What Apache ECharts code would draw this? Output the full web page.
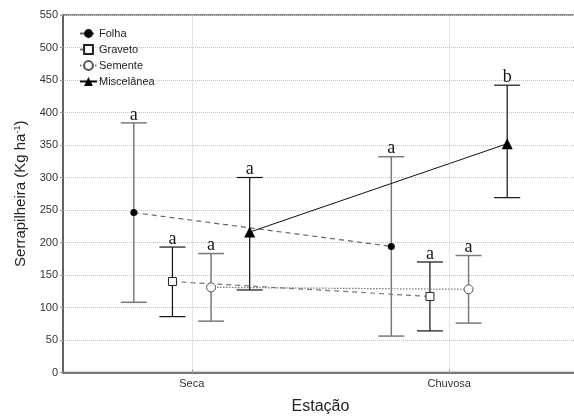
<!DOCTYPE html>
<html><head><meta charset="utf-8">
<script src="https://cdn.jsdelivr.net/npm/echarts@6/dist/echarts.min.js"></script>
<style>html,body{margin:0;padding:0;background:#fff}#c{width:574px;height:417px}</style>
</head><body><div id="c"></div>
<script>
const categories = ['Seca', 'Chuvosa'];
const seriesNames = ['Folha', 'Graveto', 'Semente', 'Miscelânea'];
const folhaMean = [246, 194];
const folhaLow = [108, 56];
const folhaHigh = [384, 332];
const gravetoMean = [140, 117];
const gravetoLow = [86, 64];
const gravetoHigh = [193, 170];
const sementeMean = [131, 128];
const sementeLow = [79, 76];
const sementeHigh = [183, 180];
const miscMean = [216, 352];
const miscLow = [127, 269];
const miscHigh = [300, 442];
const folhaLetters = ['a', 'a'];
const gravetoLetters = ['a', 'a'];
const sementeLetters = ['a', 'a'];
const miscLetters = ['a', 'b'];
const yTicks = [0, 50, 100, 150, 200, 250, 300, 350, 400, 450, 500, 550];

const catPos = [1, 3];
const offsets = [-0.45, -0.15, 0.15, 0.45];

function errSeries(idx, low, high, letters, color, width) {
  return {
    type: 'custom', name: seriesNames[idx] + '_err', xAxisIndex: 1, yAxisIndex: 0, z: 2, silent: true,
    data: catPos.map((c, i) => [c + offsets[idx], low[i], high[i], i]),
    renderItem: function (params, api) {
      const x = api.value(0);
      const lo = api.coord([x, api.value(1)]);
      const hi = api.coord([x, api.value(2)]);
      const i = api.value(3);
      const cap = 13;
      const st = { stroke: color, lineWidth: width };
      return {
        type: 'group', children: [
          { type: 'line', shape: { x1: lo[0], y1: lo[1], x2: hi[0], y2: hi[1] }, style: st },
          { type: 'line', shape: { x1: hi[0] - cap, y1: hi[1], x2: hi[0] + cap, y2: hi[1] }, style: st },
          { type: 'line', shape: { x1: lo[0] - cap, y1: lo[1], x2: lo[0] + cap, y2: lo[1] }, style: st },
          { type: 'text', x: hi[0], y: hi[1] + 1, style: { text: letters[i], fill: '#151515', fontSize: 18, fontFamily: '"Liberation Serif", "Times New Roman", serif', align: 'center', verticalAlign: 'bottom', textAlign: 'center', textVerticalAlign: 'bottom' } }
        ]
      };
    }
  };
}

function lineSeries(idx, mean, lineStyle, symbol, symbolSize, itemStyle) {
  return {
    type: 'line', name: seriesNames[idx], xAxisIndex: 1, yAxisIndex: 0, z: 3,
    data: catPos.map((c, i) => [c + offsets[idx], mean[i]]),
    symbol: symbol, symbolSize: symbolSize, showSymbol: true,
    lineStyle: lineStyle, itemStyle: itemStyle, animation: false
  };
}

const chart = echarts.init(document.getElementById('c'), null, { renderer: 'canvas' });
chart.setOption({
  animation: false,
  backgroundColor: '#fff',
  grid: { left: 63, top: 15, width: 515, bottom: 44.5, outerBoundsMode: 'none', containLabel: false, show: true, borderColor: '#666', borderWidth: 1.5, backgroundColor: 'transparent' },
  legend: {
    data: seriesNames, orient: 'vertical', left: 79, top: 28, itemWidth: 17, itemHeight: 11, itemGap: 5, padding: 0,
    textStyle: { fontSize: 11, fontFamily: 'Arial, "Liberation Sans", sans-serif', color: '#222', padding: [0, 0, 0, -3] }
  },
  xAxis: [
    { type: 'category', data: categories, boundaryGap: true,
      axisLine: { lineStyle: { color: '#777', width: 2 } },
      axisTick: { show: true, alignWithLabel: true, inside: true, length: 3, lineStyle: { color: '#777' } },
      axisLabel: { fontSize: 11, fontFamily: 'Arial, "Liberation Sans", sans-serif', color: '#333', margin: 6 },
      splitLine: { show: false },
      name: 'Estação', nameLocation: 'middle', nameGap: 26,
      nameTextStyle: { fontSize: 16, fontFamily: 'Arial, "Liberation Sans", sans-serif', color: '#222' } },
    { type: 'value', min: 0, max: 4, show: false, splitLine: { show: false } }
  ],
  yAxis: {
    type: 'value', min: yTicks[0], max: yTicks[yTicks.length - 1], interval: 50,
    axisLine: { show: true, lineStyle: { color: '#555', width: 1.5 } },
    axisTick: { show: true, length: 3, lineStyle: { color: '#999' } },
    axisLabel: { fontSize: 11, fontFamily: 'Arial, "Liberation Sans", sans-serif', color: '#333', margin: 5 },
    splitLine: { show: true, lineStyle: { color: '#c4c4c4', type: [1, 1], width: 1 } },
    name: '{n|Serrapilheira (Kg ha}{s|-1}{n|)}', nameLocation: 'middle', nameGap: 33, nameRotate: 90,
    nameTextStyle: { rich: {
      n: { fontSize: 15, fontFamily: 'Arial, "Liberation Sans", sans-serif', color: '#222' },
      s: { fontSize: 9, fontFamily: 'Arial, "Liberation Sans", sans-serif', color: '#222', verticalAlign: 'top', padding: [0, 0, 8, 0] }
    } }
  },
  series: [
    { type: 'line', name: 'vgrid', xAxisIndex: 1, yAxisIndex: 0, data: [], z: 1,
      markLine: { silent: true, symbol: 'none', label: { show: false }, animation: false,
        lineStyle: { color: '#c4c4c4', type: [1, 1], width: 1 },
        data: catPos.map(c => ({ xAxis: c })) } },
    errSeries(0, folhaLow, folhaHigh, folhaLetters, '#7a7a7a', 1.5),
    errSeries(1, gravetoLow, gravetoHigh, gravetoLetters, '#111', 1.2),
    errSeries(2, sementeLow, sementeHigh, sementeLetters, '#7a7a7a', 1.5),
    errSeries(3, miscLow, miscHigh, miscLetters, '#111', 1.2),
    lineSeries(0, folhaMean, { color: '#666', width: 1.2, type: [5, 4] }, 'circle', 7, { color: '#000', borderColor: '#000', borderWidth: 0 }),
    lineSeries(1, gravetoMean, { color: '#777', width: 1.2, type: [5, 4] }, 'rect', 8, { color: '#fff', borderColor: '#222', borderWidth: 1 }),
    lineSeries(2, sementeMean, { color: '#777', width: 1.2, type: [1.5, 1.5] }, 'circle', 9, { color: '#fff', borderColor: '#555', borderWidth: 1 }),
    lineSeries(3, miscMean, { color: '#111', width: 1, type: 'solid' }, 'triangle', 11, { color: '#000', borderColor: '#000', borderWidth: 0 })
  ]
});
</script></body></html>
